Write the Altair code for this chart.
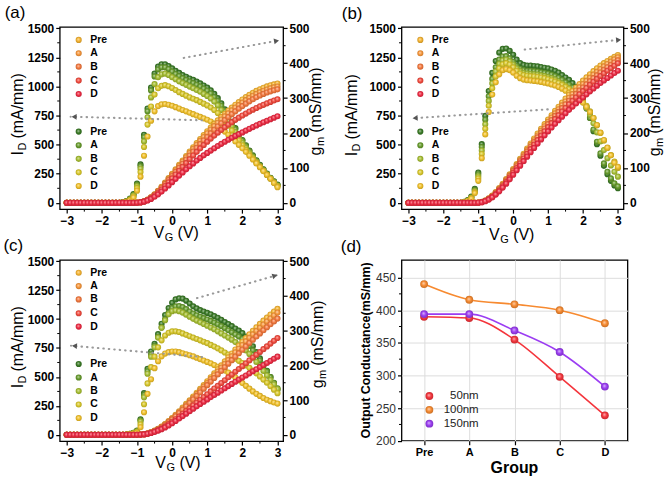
import math
import altair as alt
import pandas as pd

FONT = "Liberation Sans"

# Gate-voltage sweep: -3 V to 3 V, 0.1 V steps
VG = [round(-3.0 + 0.1 * k, 1) for k in range(61)]
SAMPLES = ["Pre", "A", "B", "C", "D"]

# ---------------- (a) drain current I_D (mA/mm) ----------------
A_ID_PRE = [0, 0, 0, 0, 0, 0, 0, 0, 0, 0, 0, 0, 0, 0, 0, 0, 0, 0, 0, 0,
            2, 6, 14, 28, 48, 74, 104, 138, 174, 212, 250, 288, 326, 364, 402, 440, 477, 513, 548, 582, 615,
            647, 678, 708, 737, 765, 792, 818, 843, 866, 888, 909, 928, 946, 962, 976, 989, 1000, 1010, 1018, 1025]
A_ID_A = [0, 0, 0, 0, 0, 0, 0, 0, 0, 0, 0, 0, 0, 0, 0, 0, 0, 0, 0, 0,
          2, 6, 14, 27, 47, 72, 101, 134, 169, 206, 243, 280, 317, 354, 391, 428, 464, 499, 533, 566, 598,
          629, 659, 688, 716, 743, 769, 794, 818, 840, 861, 882, 902, 920, 936, 950, 963, 974, 984, 992, 999]
A_ID_B = [0, 0, 0, 0, 0, 0, 0, 0, 0, 0, 0, 0, 0, 0, 0, 0, 0, 0, 0, 0,
          2, 5, 13, 26, 45, 69, 97, 128, 161, 196, 231, 266, 301, 336, 371, 406, 440, 473, 505, 536, 566,
          597, 627, 656, 684, 711, 737, 762, 786, 809, 831, 852, 872, 890, 907, 922, 936, 948, 958, 967, 975]
A_ID_C = [0, 0, 0, 0, 0, 0, 0, 0, 0, 0, 0, 0, 0, 0, 0, 0, 0, 0, 0, 0,
          1, 5, 12, 24, 41, 62, 87, 115, 145, 177, 210, 243, 276, 309, 342, 375, 407, 438, 468, 497, 525,
          552, 578, 603, 627, 650, 672, 693, 713, 732, 750, 767, 784, 800, 815, 829, 842, 855, 867, 879, 890]
A_ID_D = [0, 0, 0, 0, 0, 0, 0, 0, 0, 0, 0, 0, 0, 0, 0, 0, 0, 0, 0, 0,
          1, 4, 10, 20, 34, 52, 73, 97, 123, 150, 178, 206, 234, 261, 288, 314, 339, 363, 386, 408, 429,
          449, 469, 488, 507, 525, 542, 559, 575, 590, 605, 621, 636, 651, 665, 679, 692, 705, 718, 731, 744]

# (a) transconductance g_m (mS/mm)
A_GM_PRE = [0, 0, 0, 0, 0, 0, 0, 0, 0, 0, 0, 0, 0, 0, 0, 0,
            2, 5, 12, 25, 55, 110, 195, 270, 330, 370, 390, 397, 397, 392, 385,
            378, 372, 366, 361, 356, 352, 347, 342, 336, 330, 322, 312, 300, 285, 268,
            250, 232, 214, 196, 180, 165, 150, 136, 122, 109, 96, 84, 72, 62, 52]
A_GM_A = [0, 0, 0, 0, 0, 0, 0, 0, 0, 0, 0, 0, 0, 0, 0, 0,
          2, 5, 11, 23, 52, 105, 188, 262, 322, 362, 382, 388, 388, 383, 376,
          369, 363, 357, 352, 347, 343, 338, 333, 327, 321, 313, 303, 292, 278, 262,
          245, 228, 211, 194, 178, 163, 148, 134, 120, 107, 95, 83, 71, 61, 51]
A_GM_B = [0, 0, 0, 0, 0, 0, 0, 0, 0, 0, 0, 0, 0, 0, 0, 0,
          1, 4, 10, 21, 48, 98, 176, 245, 302, 340, 360, 368, 370, 366, 360,
          354, 348, 343, 338, 333, 328, 323, 318, 312, 306, 299, 290, 279, 266, 251,
          235, 219, 203, 187, 172, 158, 144, 131, 118, 105, 93, 81, 70, 59, 49]
A_GM_C = [0, 0, 0, 0, 0, 0, 0, 0, 0, 0, 0, 0, 0, 0, 0, 0,
          1, 3, 8, 18, 42, 88, 160, 224, 276, 310, 328, 335, 337, 334, 329,
          323, 317, 312, 307, 302, 298, 294, 289, 284, 279, 273, 266, 257, 246, 234,
          221, 207, 193, 179, 165, 152, 139, 127, 115, 103, 91, 80, 69, 58, 48]
A_GM_D = [0, 0, 0, 0, 0, 0, 0, 0, 0, 0, 0, 0, 0, 0, 0, 0,
          1, 3, 7, 15, 35, 75, 135, 190, 235, 262, 277, 282, 283, 281, 278,
          274, 270, 266, 262, 258, 254, 250, 246, 242, 238, 233, 227, 220, 212, 204,
          195, 186, 176, 166, 156, 146, 135, 124, 113, 102, 91, 80, 69, 57, 45]

# ---------------- (b) ----------------
B_ID_PRE = [0, 0, 0, 0, 0, 0, 0, 0, 0, 0, 0, 0, 0, 0, 0, 0, 0, 0, 0, 0,
            2, 8, 20, 38, 62, 92, 126, 164, 204, 246, 290, 334, 378, 422, 466, 510, 553, 595, 636, 676, 715,
            753, 790, 826, 861, 895, 928, 960, 991, 1021, 1050, 1078, 1105, 1131, 1156, 1179, 1200, 1219, 1237, 1254, 1270]
B_ID_A = [0, 0, 0, 0, 0, 0, 0, 0, 0, 0, 0, 0, 0, 0, 0, 0, 0, 0, 0, 0,
          2, 7, 19, 36, 59, 88, 121, 158, 197, 238, 281, 324, 367, 410, 453, 496, 538, 579, 619, 658, 696,
          733, 769, 804, 838, 871, 903, 934, 964, 993, 1021, 1048, 1075, 1101, 1126, 1150, 1172, 1193, 1213, 1232, 1250]
B_ID_B = [0, 0, 0, 0, 0, 0, 0, 0, 0, 0, 0, 0, 0, 0, 0, 0, 0, 0, 0, 0,
          2, 7, 18, 34, 56, 84, 116, 152, 190, 230, 272, 314, 356, 398, 440, 481, 522, 562, 601, 639, 676,
          712, 747, 781, 814, 846, 877, 907, 936, 964, 991, 1018, 1045, 1071, 1096, 1120, 1143, 1165, 1186, 1206, 1225]
B_ID_C = [0, 0, 0, 0, 0, 0, 0, 0, 0, 0, 0, 0, 0, 0, 0, 0, 0, 0, 0, 0,
          1, 6, 16, 31, 52, 78, 108, 142, 178, 217, 258, 299, 340, 381, 421, 461, 500, 539, 577, 614, 650,
          685, 719, 752, 784, 815, 846, 876, 905, 933, 960, 987, 1014, 1040, 1065, 1089, 1112, 1135, 1157, 1178, 1199]
B_ID_D = [0, 0, 0, 0, 0, 0, 0, 0, 0, 0, 0, 0, 0, 0, 0, 0, 0, 0, 0, 0,
          1, 5, 14, 28, 47, 71, 99, 131, 165, 202, 241, 280, 319, 358, 397, 435, 472, 509, 545, 580, 614,
          647, 679, 710, 740, 770, 799, 827, 854, 880, 905, 932, 958, 983, 1007, 1030, 1052, 1073, 1094, 1115, 1135]

B_GM_PRE = [0, 0, 0, 0, 0, 0, 0, 0, 0, 0, 0, 0, 0, 0, 0, 0,
            3, 8, 18, 40, 87, 168, 249, 320, 372, 406, 430, 441, 442, 435, 424,
            410, 400, 395, 393, 393, 392, 391, 389, 387, 385, 382, 378, 373, 366, 359,
            352, 343, 332, 318, 300, 275, 243, 205, 168, 135, 106, 82, 63, 50, 42]
B_GM_A = [0, 0, 0, 0, 0, 0, 0, 0, 0, 0, 0, 0, 0, 0, 0, 0,
          3, 7, 16, 37, 82, 160, 238, 305, 355, 388, 410, 419, 420, 414, 404,
          392, 384, 380, 378, 378, 377, 376, 374, 372, 370, 367, 363, 358, 352, 345,
          338, 330, 320, 307, 291, 270, 243, 210, 175, 142, 113, 89, 70, 56, 47]
B_GM_B = [0, 0, 0, 0, 0, 0, 0, 0, 0, 0, 0, 0, 0, 0, 0, 0,
          2, 6, 15, 34, 76, 150, 225, 292, 342, 376, 398, 408, 410, 405, 396,
          385, 377, 372, 370, 369, 368, 367, 365, 363, 360, 357, 353, 348, 342, 336,
          329, 321, 312, 301, 288, 272, 252, 228, 202, 176, 151, 128, 107, 89, 75]
B_GM_C = [0, 0, 0, 0, 0, 0, 0, 0, 0, 0, 0, 0, 0, 0, 0, 0,
          2, 5, 13, 31, 70, 140, 212, 278, 328, 362, 385, 397, 400, 396, 388,
          378, 370, 366, 364, 363, 362, 361, 359, 357, 354, 351, 347, 343, 338, 332,
          326, 319, 311, 302, 291, 278, 262, 243, 222, 200, 178, 157, 137, 118, 100]
B_GM_D = [0, 0, 0, 0, 0, 0, 0, 0, 0, 0, 0, 0, 0, 0, 0, 0,
          2, 5, 12, 28, 63, 128, 196, 260, 310, 345, 368, 380, 383, 380, 373,
          364, 357, 353, 351, 350, 349, 348, 346, 344, 342, 339, 336, 332, 327, 321,
          315, 309, 302, 295, 287, 275, 260, 243, 223, 201, 180, 158, 136, 115, 103]

# ---------------- (c) ----------------
C_ID_PRE = [0, 0, 0, 0, 0, 0, 0, 0, 0, 0, 0, 0, 0, 0, 0, 0, 0, 0, 0, 0,
            0, 2, 6, 13, 23, 36, 52, 71, 93, 118, 145, 174, 204, 235, 267, 299, 331, 364, 397, 430, 463,
            497, 531, 566, 600, 635, 669, 703, 737, 770, 803, 836, 868, 899, 929, 958, 986, 1013, 1039, 1064, 1088]
C_ID_A = [0, 0, 0, 0, 0, 0, 0, 0, 0, 0, 0, 0, 0, 0, 0, 0, 0, 0, 0, 0,
          0, 2, 6, 12, 22, 35, 50, 69, 90, 114, 140, 168, 197, 227, 258, 289, 320, 352, 384, 416, 448,
          481, 514, 547, 580, 613, 646, 679, 712, 744, 776, 807, 838, 868, 897, 925, 952, 979, 1005, 1031, 1056]
C_ID_B = [0, 0, 0, 0, 0, 0, 0, 0, 0, 0, 0, 0, 0, 0, 0, 0, 0, 0, 0, 0,
          0, 2, 5, 11, 20, 32, 47, 65, 85, 108, 133, 160, 188, 217, 246, 276, 306, 336, 367, 398, 429,
          460, 491, 522, 553, 584, 615, 645, 675, 705, 735, 764, 793, 821, 849, 876, 903, 929, 955, 980, 1004]
C_ID_C = [0, 0, 0, 0, 0, 0, 0, 0, 0, 0, 0, 0, 0, 0, 0, 0, 0, 0, 0, 0,
          0, 2, 5, 10, 18, 28, 41, 56, 73, 92, 113, 135, 158, 182, 206, 230, 254, 278, 303, 327, 351,
          375, 400, 424, 448, 472, 497, 521, 545, 569, 593, 618, 643, 668, 692, 716, 740, 764, 788, 812, 836]
C_ID_D = [0, 0, 0, 0, 0, 0, 0, 0, 0, 0, 0, 0, 0, 0, 0, 0, 0, 0, 0, 0,
          0, 2, 4, 9, 16, 25, 36, 49, 64, 81, 100, 120, 141, 162, 183, 204, 225, 246, 266, 286, 306,
          326, 345, 364, 383, 402, 421, 440, 459, 477, 495, 513, 531, 549, 567, 585, 603, 621, 639, 657, 675]

C_GM_PRE = [0, 0, 0, 0, 0, 0, 0, 0, 0, 0, 0, 0, 0, 0, 0, 0,
            0, 1, 3, 6, 12, 45, 120, 190, 240, 262, 290, 320, 345, 365, 380,
            390, 393, 392, 386, 378, 370, 364, 359, 355, 351, 347, 342, 337, 331, 325,
            319, 313, 306, 300, 293, 283, 270, 255, 238, 220, 202, 184, 166, 148, 130]
C_GM_A = [0, 0, 0, 0, 0, 0, 0, 0, 0, 0, 0, 0, 0, 0, 0, 0,
          0, 1, 3, 6, 11, 42, 115, 183, 232, 256, 282, 310, 333, 352, 365,
          370, 371, 368, 362, 355, 349, 344, 340, 336, 332, 328, 323, 318, 313, 307,
          301, 295, 289, 283, 276, 267, 256, 243, 229, 214, 198, 182, 166, 150, 134]
C_GM_B = [0, 0, 0, 0, 0, 0, 0, 0, 0, 0, 0, 0, 0, 0, 0, 0,
          0, 1, 2, 5, 10, 38, 108, 176, 225, 252, 280, 308, 330, 347, 356,
          358, 356, 352, 346, 340, 334, 329, 324, 319, 314, 309, 304, 298, 292, 286,
          280, 274, 267, 260, 252, 243, 233, 222, 210, 197, 184, 171, 158, 145, 132]
C_GM_C = [0, 0, 0, 0, 0, 0, 0, 0, 0, 0, 0, 0, 0, 0, 0, 0,
          0, 1, 2, 4, 8, 30, 88, 148, 195, 225, 252, 272, 286, 294, 298,
          298, 296, 292, 288, 284, 280, 276, 272, 268, 264, 259, 254, 249, 243, 237,
          231, 225, 219, 213, 207, 200, 193, 185, 177, 168, 159, 150, 140, 130, 120]
C_GM_D = [0, 0, 0, 0, 0, 0, 0, 0, 0, 0, 0, 0, 0, 0, 0, 0,
          0, 1, 2, 3, 6, 22, 65, 118, 160, 192, 212, 226, 234, 238, 240,
          240, 238, 235, 232, 229, 226, 222, 218, 214, 210, 206, 201, 196, 191, 185,
          179, 172, 165, 157, 149, 141, 133, 125, 118, 112, 106, 101, 97, 93, 90]

# ---------------- (d) output conductance (mS/mm) by group ----------------
OC_50NM = [390, 388, 355, 298, 239]
OC_100NM = [440, 416, 409, 400, 380]
OC_150NM = [394, 394, 369, 336, 283]
THICKNESS = ["50nm", "100nm", "150nm"]

ID_COLORS = ["#F6B431", "#F7963A", "#F5793E", "#F24A3D", "#EE2A42"]
GM_COLORS = ["#3A7A26", "#679C2C", "#A6BE31", "#D9C82A", "#F2C12A"]
OC_COLORS = ["#F4353C", "#F78A30", "#9B3DF2"]


def shade(hex_color, amount):
    r, g, b = (int(hex_color[i:i + 2], 16) for i in (1, 3, 5))
    if amount >= 0:
        r, g, b = (int(c + (255 - c) * amount) for c in (r, g, b))
    else:
        r, g, b = (int(c * (1 + amount)) for c in (r, g, b))
    return f"#{r:02x}{g:02x}{b:02x}"


def sphere(hex_color):
    """Radial gradient giving the glossy-ball look of the symbols."""
    return alt.RadialGradient(
        gradient="radial",
        stops=[alt.GradientStop(offset=0, color=shade(hex_color, 0.65)),
               alt.GradientStop(offset=0.55, color=hex_color),
               alt.GradientStop(offset=1, color=shade(hex_color, -0.18))],
        x1=0.42, y1=0.38, r1=0.0, x2=0.5, y2=0.5, r2=0.5)


def note(s, x, y, size, angle=0, weight="normal", align="left", baseline="alphabetic", color="black"):
    return alt.Chart(alt.Data(values=[{}])).mark_text(
        text=s, font=FONT, fontSize=size, fontWeight=weight, angle=angle,
        align=align, baseline=baseline, color=color
    ).encode(x=alt.value(x), y=alt.value(y))


AX = dict(title=None, domain=False, grid=False, ticks=True, tickSize=4, tickWidth=1.2,
          tickColor="black", labelFont=FONT, labelFontSize=12, labelFontWeight="bold",
          labelColor="black", labelPadding=2, labelFlush=False, labelOverlap=False, format="d")

X_DOM = [-3.2, 3.16]
ID_DOM = [-54, 1511]
GM_DOM = [ID_DOM[0] / 3, ID_DOM[1] / 3]

ID_TICKS = [0, 250, 500, 750, 1000, 1250, 1500]
GM_TICKS = [0, 100, 200, 300, 400, 500]
X_TICKS = [-3, -2, -1, 0, 1, 2, 3]
ID_MINOR = [t + 125 for t in ID_TICKS[:-1]]
GM_MINOR = [t + 50 for t in GM_TICKS[:-1]]
X_MINOR = [t + 0.5 for t in X_TICKS[:-1]]

LEG_ID_Y = [1400, 1285, 1170, 1050, 935]
LEG_GM_Y = [612, 495, 378, 262, 145]
LEG_DOT_X = -2.66
LEG_TXT_X = -2.33
DOT = 38


def transfer_panel(tag, id_lists, gm_lists, g, arrows):
    w, h = g["w"], g["h"]
    xs = alt.Scale(domain=X_DOM, nice=False, zero=False)
    ys = alt.Scale(domain=ID_DOM, nice=False, zero=False)
    gs = alt.Scale(domain=GM_DOM, nice=False, zero=False)
    xax = alt.Axis(values=X_TICKS, **AX)
    lax = alt.Axis(orient="left", values=ID_TICKS, **AX)
    rax = alt.Axis(orient="right", values=GM_TICKS, **AX)

    def X(f):
        return alt.X(f"{f}:Q", scale=xs, axis=xax)

    def Y(f):
        return alt.Y(f"{f}:Q", scale=ys, axis=lax)

    def G(f):
        return alt.Y(f"{f}:Q", scale=gs, axis=rax)

    # ----- drain-current layer (left axis) -----
    idl = []
    idl.append(alt.Chart(pd.DataFrame({"t": ID_MINOR})).mark_rule(color="black", strokeWidth=1)
               .encode(y=Y("t"), x=alt.value(-2.5), x2=alt.value(0)))
    idl.append(alt.Chart(pd.DataFrame({"t": X_MINOR})).mark_rule(color="black", strokeWidth=1)
               .encode(x=X("t"), y=alt.value(h), y2=alt.value(h + 2.5)))

    # dotted guide arrows pointing to the matching axis
    for (tx, ty), (hx, hy) in arrows:
        idl.append(alt.Chart(pd.DataFrame({"x0": [tx], "y0": [ty], "x1": [hx], "y1": [hy]}))
                   .mark_rule(color="#9a9a9a", strokeWidth=2.1, strokeDash=[0.5, 5], strokeCap="round")
                   .encode(x=X("x0"), x2="x1:Q", y=Y("y0"), y2="y1:Q"))
        px = lambda v: (v - X_DOM[0]) / (X_DOM[1] - X_DOM[0]) * w
        py = lambda v: (ID_DOM[1] - v) / (ID_DOM[1] - ID_DOM[0]) * h
        dx, dy = px(hx) - px(tx), py(hy) - py(ty)
        ang = math.atan2(dy, dx)
        idl.append(alt.Chart(pd.DataFrame({"x": [hx], "y": [hy]}))
                   .mark_point(shape="triangle-right", filled=True, color="#555555", opacity=1,
                               size=34, angle=math.degrees(ang) % 360,
                               xOffset=-3.5 * math.cos(ang), yOffset=-3.5 * math.sin(ang))
                   .encode(x=X("x"), y=Y("y")))

    # in-plot legends
    for name, col, yy in zip(SAMPLES, ID_COLORS, LEG_ID_Y):
        idl.append(alt.Chart(pd.DataFrame({"x": [LEG_DOT_X], "y": [yy]}))
                   .mark_circle(fill=sphere(col), size=DOT, opacity=1).encode(x=X("x"), y=Y("y")))
    for name, col, yy in zip(SAMPLES, GM_COLORS, LEG_GM_Y):
        idl.append(alt.Chart(pd.DataFrame({"x": [LEG_DOT_X], "y": [yy]}))
                   .mark_circle(fill=sphere(col), size=DOT, opacity=1).encode(x=X("x"), y=Y("y")))
    leg = pd.DataFrame({"x": [LEG_TXT_X] * 10, "y": LEG_ID_Y + LEG_GM_Y, "name": SAMPLES + SAMPLES})
    idl.append(alt.Chart(leg).mark_text(align="left", baseline="middle", font=FONT, fontSize=10.5,
                                        fontWeight="bold", color="black")
               .encode(x=X("x"), y=Y("y"), text="name:N"))

    for vals, col in zip(id_lists, ID_COLORS):
        idl.append(alt.Chart(pd.DataFrame({"VG": VG, "v": vals}))
                   .mark_circle(fill=sphere(col), size=DOT, opacity=1).encode(x=X("VG"), y=Y("v")))

    # axis titles with subscripts, panel tag
    bx, sy = g["lx"], g["ty"]
    idl += [note("I", bx, sy, 16, angle=270),
            note("D", bx + 3, sy - 4.9, 11, angle=270),
            note("(mA/mm)", bx, sy - 4.45 - 7.9 - 4.6, 16, angle=270)]
    rx = w + g["rx"]
    idl += [note("g", rx, sy, 16, angle=270),
            note("m", rx + 3, sy - 9.4, 11, angle=270),
            note("(mS/mm)", rx, sy - 8.9 - 9.2 - 4.6, 16, angle=270)]
    vx, vb = g["vx"], g["vb"]
    idl += [note("V", vx, vb, 16),
            note("G", vx + 11.2, vb + 3, 11),
            note("(V)", vx + 11.2 + 8.6 + 4.4, vb, 16)]
    idl.append(note(tag, g["tag"][0], g["tag"][1], 17))

    # ----- transconductance layer (right axis) -----
    gml = [alt.Chart(pd.DataFrame({"t": GM_MINOR})).mark_rule(color="black", strokeWidth=1)
           .encode(y=G("t"), x=alt.value(w), x2=alt.value(w + 2.5))]
    for vals, col in zip(gm_lists, GM_COLORS):
        gml.append(alt.Chart(pd.DataFrame({"VG": VG, "v": vals}))
                   .mark_circle(fill=sphere(col), size=DOT, opacity=1).encode(x=X("VG"), y=G("v")))

    return (alt.layer(alt.layer(*gml), alt.layer(*idl))
            .resolve_scale(y="independent")
            .properties(width=w, height=h))


def conductance_panel():
    w, h = 227, 181.7
    xs = alt.Scale(type="point", domain=SAMPLES, padding=0.5)
    ys = alt.Scale(domain=[200, 477], nice=False, zero=False)
    base = {k: v for k, v in AX.items() if k != "format"}
    base.update(grid=True, gridColor="#DDDDDD", gridWidth=1)
    xax = alt.Axis(labelAngle=0, labelFontSize=11, labelPadding=2,
                   **{k: v for k, v in base.items() if k not in ("labelFontSize", "labelPadding")})
    yb = {k: v for k, v in base.items() if k not in ("labelFontWeight", "labelColor", "labelFontSize")}
    yax = alt.Axis(values=[200, 250, 300, 350, 400, 450], labelFontWeight="normal",
                   labelColor="#333333", labelFontSize=12, **yb)

    def X(f):
        return alt.X(f"{f}:N", scale=xs, axis=xax)

    def Y(f):
        return alt.Y(f"{f}:Q", scale=ys, axis=yax)

    layers = [alt.Chart(pd.DataFrame({"t": [225, 275, 325, 375, 425]})).mark_rule(color="black", strokeWidth=1)
              .encode(y=Y("t"), x=alt.value(-2.5), x2=alt.value(0))]
    for vals, col in zip([OC_50NM, OC_100NM, OC_150NM], OC_COLORS):
        df = pd.DataFrame({"group": SAMPLES, "v": vals})
        layers.append(alt.Chart(df).mark_line(interpolate="monotone", color=col, strokeWidth=1.6)
                      .encode(x=X("group"), y=Y("v")))
    for vals, col in zip([OC_50NM, OC_100NM, OC_150NM], OC_COLORS):
        df = pd.DataFrame({"group": SAMPLES, "v": vals})
        layers.append(alt.Chart(df).mark_circle(fill=sphere(col), size=62, opacity=1)
                      .encode(x=X("group"), y=Y("v")))
    # legend
    for i, (name, col) in enumerate(zip(THICKNESS, OC_COLORS)):
        yy = 136.7 + 13.9 * i
        layers.append(alt.Chart(alt.Data(values=[{}])).mark_circle(fill=sphere(col), size=62, opacity=1)
                      .encode(x=alt.value(28), y=alt.value(yy)))
        layers.append(note(name, 77.5, yy, 11.5, align="right", baseline="middle", color="#222222"))
    layers += [note("Output Conductance(mS/mm)", -32, h / 2, 12.5, angle=270, weight="bold", align="center"),
               note("Group", w / 2, 214.5, 16, weight="bold", align="center"),
               note("(d)", -61, -8, 17)]
    return alt.layer(*layers).properties(width=w, height=h)


GEOM_A = dict(w=224.4, h=183, lx=-36.5, rx=38, ty=129, vx=94.2, vb=212.3, tag=(-55.3, -9))
GEOM_B = dict(w=223, h=183, lx=-45, rx=36.5, ty=130, vx=88, vb=214, tag=(-60, -8))
GEOM_C = dict(w=224.4, h=182, lx=-37, rx=39.8, ty=129, vx=96, vb=209.5, tag=(-56.5, -8.5))

ARROWS_A = [((0.85, 709), (-2.89, 740)), ((0.33, 1245), (3.07, 1397))]
ARROWS_B = [((0.99, 803), (-2.91, 726)), ((0.33, 1317), (3.12, 1403))]
ARROWS_C = [((0.85, 672), (-2.88, 770)), ((0.71, 1181), (3.02, 1382))]

pa = transfer_panel("(a)", [A_ID_PRE, A_ID_A, A_ID_B, A_ID_C, A_ID_D],
                    [A_GM_PRE, A_GM_A, A_GM_B, A_GM_C, A_GM_D], GEOM_A, ARROWS_A)
pb = transfer_panel("(b)", [B_ID_PRE, B_ID_A, B_ID_B, B_ID_C, B_ID_D],
                    [B_GM_PRE, B_GM_A, B_GM_B, B_GM_C, B_GM_D], GEOM_B, ARROWS_B)
pc = transfer_panel("(c)", [C_ID_PRE, C_ID_A, C_ID_B, C_ID_C, C_ID_D],
                    [C_GM_PRE, C_GM_A, C_GM_B, C_GM_C, C_GM_D], GEOM_C, ARROWS_C)
pd_ = conductance_panel()

chart = (alt.concat(pa, pb, pc, pd_, columns=2, bounds="flush",
                    spacing={"row": 51, "column": 118.3})
         .properties(padding={"left": 2, "top": 2, "right": 0, "bottom": 0}, background="white")
         .configure_view(stroke="black", strokeWidth=1.3))

chart.save("out.html", embed_options={"renderer": "svg", "actions": False})
